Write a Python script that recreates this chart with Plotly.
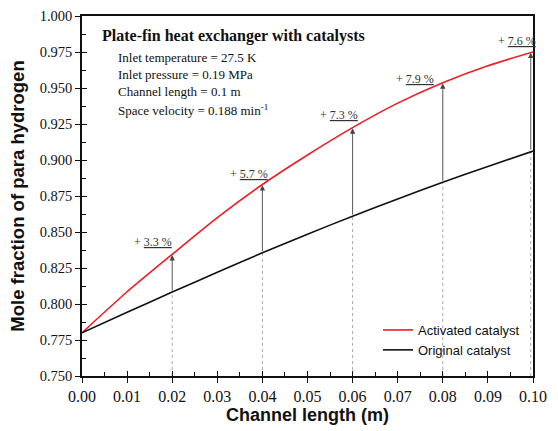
import plotly.graph_objects as go

# Data
length_m = [0.00, 0.01, 0.02, 0.03, 0.04, 0.05, 0.06, 0.07, 0.08, 0.09, 0.10]
activated = [0.780, 0.8085, 0.8345, 0.8600, 0.8830, 0.9035, 0.9225, 0.9395, 0.9537, 0.9655, 0.9750]
original = [0.780, 0.7942, 0.8083, 0.8220, 0.8356, 0.8485, 0.8610, 0.8730, 0.8845, 0.8955, 0.9062]

arrow_x = [0.02, 0.04, 0.06, 0.08, 0.0995]
arrow_from = [0.8083, 0.8356, 0.8610, 0.8845, 0.9062]
arrow_to = [0.8345, 0.8830, 0.9225, 0.9537, 0.9750]
gain_labels = ["3.3 %", "5.7 %", "7.3 %", "7.9 %", "7.6 %"]
label_x = [0.0158, 0.0371, 0.0569, 0.0738, 0.0964]
label_y = [0.8433, 0.8903, 0.9312, 0.9563, 0.9828]

x_ticks = [0.00, 0.01, 0.02, 0.03, 0.04, 0.05, 0.06, 0.07, 0.08, 0.09, 0.10]
x_tick_labels = ["0.00", "0.01", "0.02", "0.03", "0.04", "0.05", "0.06", "0.07", "0.08", "0.09", "0.10"]
y_ticks = [0.750, 0.775, 0.800, 0.825, 0.850, 0.875, 0.900, 0.925, 0.950, 0.975, 1.000]
y_tick_labels = ["0.750", "0.775", "0.800", "0.825", "0.850", "0.875", "0.900", "0.925", "0.950", "0.975", "1.000"]

info_title = "Plate-fin heat exchanger with catalysts"
info_lines = ["Inlet temperature = 27.5 K",
              "Inlet pressure = 0.19 MPa",
              "Channel length = 0.1 m",
              "Space velocity = 0.188 min<sup>-1</sup>"]

serif = "Liberation Serif, Times New Roman, serif"
sans = "Liberation Sans, Arial, sans-serif"

W, H = 558, 431
ML, MR, MT, MB = 82, 25, 16, 55
plot_w = W - ML - MR
plot_h = H - MT - MB


def px_x(p):
    return (p - ML) / plot_w


def px_y(p):
    return 1 - (p - MT) / plot_h


fig = go.Figure()

# dotted guide lines from axis to the original curve
for xv, yv in zip(arrow_x, arrow_from):
    fig.add_trace(go.Scatter(x=[xv, xv], y=[0.75, yv], mode="lines",
                             line=dict(color="#aaaaaa", width=1, dash="dot"),
                             showlegend=False, hoverinfo="skip"))

fig.add_trace(go.Scatter(x=length_m, y=activated, mode="lines", name="Activated catalyst",
                         line=dict(color="#ee1c24", width=1.6, shape="spline", smoothing=0.6)))
fig.add_trace(go.Scatter(x=length_m, y=original, mode="lines", name="Original catalyst",
                         line=dict(color="#111111", width=1.6, shape="spline", smoothing=0.6)))

# arrows
for xv, y0, y1 in zip(arrow_x, arrow_from, arrow_to):
    fig.add_annotation(x=xv, y=y1 - 0.0005, ax=xv, ay=y0, xref="x", yref="y",
                       axref="x", ayref="y", showarrow=True, arrowhead=2,
                       arrowsize=1.2, arrowwidth=0.9, arrowcolor="#444444", text="")

for xv, yv, t in zip(label_x, label_y, gain_labels):
    fig.add_annotation(x=xv, y=yv, xref="x", yref="y", showarrow=False,
                       text="+ <u>" + t + "</u>",
                       font=dict(family=serif, size=12, color="#333333"))

# info block
fig.add_annotation(x=px_x(100), y=px_y(36), xref="paper", yref="paper",
                   text="<b>" + info_title + "</b>",
                   showarrow=False, xanchor="left", yanchor="middle",
                   font=dict(family=serif, size=16, color="#111111"))
info_y_px = [57, 74, 91, 110]
for line, ypx in zip(info_lines, info_y_px):
    fig.add_annotation(x=px_x(116), y=px_y(ypx), xref="paper", yref="paper",
                       text=line, showarrow=False, xanchor="left", yanchor="middle",
                       font=dict(family=serif, size=13, color="#111111"))

fig.update_layout(
    width=W, height=H,
    margin=dict(l=ML, r=MR, t=MT, b=MB),
    paper_bgcolor="white", plot_bgcolor="white",
    showlegend=True,
    legend=dict(x=px_x(378), y=px_y(340), xanchor="left", yanchor="middle",
                bgcolor="rgba(0,0,0,0)", tracegroupgap=0,
                font=dict(family=sans, size=13, color="#111111"),
                itemwidth=30),
    xaxis=dict(range=[0, 0.10], tickvals=x_ticks, ticktext=x_tick_labels,
               ticks="outside", ticklen=5, tickwidth=1.3, tickcolor="#111",
               minor=dict(tickvals=[0.005 + i / 100 for i in range(10)], ticks="inside",
                          ticklen=4, tickwidth=1.2, tickcolor="#111"),
               showline=True, linecolor="#111", linewidth=1.5, mirror=True,
               showgrid=False, zeroline=False, automargin=False,
               tickfont=dict(family=serif, size=16, color="#111"),
               title=dict(text="<b>Channel length (m)</b>", standoff=4,
                          font=dict(family=sans, size=18, color="#111"))),
    yaxis=dict(range=[0.75, 1.0], tickvals=y_ticks, ticktext=y_tick_labels,
               ticks="outside", ticklen=5, tickwidth=1.3, tickcolor="#111",
               minor=dict(tickvals=[0.7625 + 0.025 * i for i in range(10)], ticks="inside",
                          ticklen=4, tickwidth=1.2, tickcolor="#111"),
               showline=True, linecolor="#111", linewidth=1.5, mirror=True,
               showgrid=False, zeroline=False, automargin=False,
               tickfont=dict(family=serif, size=14.5, color="#111"),
               title=dict(text="<b>Mole fraction of para hydrogen</b>", standoff=10,
                          font=dict(family=sans, size=18.5, color="#111"))),
    xaxis2=dict(range=[0, 0.10], overlaying="x", tickvals=x_ticks,
                ticks="inside", ticklen=5, tickwidth=1.3, tickcolor="#111",
                showticklabels=False, showgrid=False, zeroline=False, showline=False),
    yaxis2=dict(range=[0.75, 1.0], overlaying="y", tickvals=y_ticks,
                ticks="inside", ticklen=5, tickwidth=1.3, tickcolor="#111",
                showticklabels=False, showgrid=False, zeroline=False, showline=False),
)

# dummy trace to activate overlay axes
fig.add_trace(go.Scatter(x=[None], y=[None], xaxis="x2", yaxis="y2", showlegend=False,
                         hoverinfo="skip"))

fig.write_html("out.html", config={"displayModeBar": False},
               post_script="document.body.style.margin='0px';")
